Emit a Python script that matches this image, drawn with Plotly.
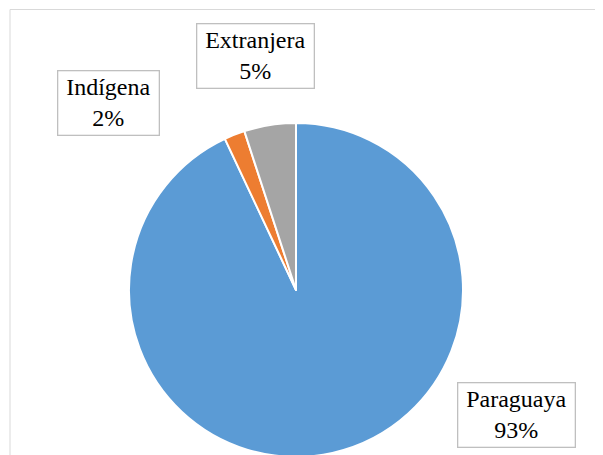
import plotly.graph_objects as go

categories = ["Paraguaya", "Indígena", "Extranjera"]
values = [93, 2, 5]
colors = ["#5B9BD5", "#ED7D31", "#A5A5A5"]
label_pos = {"Paraguaya": (516, 415), "Indígena": (109, 102.5), "Extranjera": (255, 56.5)}
label_w = {"Paraguaya": 116, "Indígena": 100, "Extranjera": 116}

OFF = 8  # page body margin
W, H = 603, 455
cx, cy, r = 296 - OFF, 290 - OFF, 167
fig = go.Figure(go.Pie(
    labels=categories, values=values, sort=False, direction="clockwise", rotation=0,
    marker=dict(colors=colors, line=dict(color="white", width=2)),
    textinfo="none", hoverinfo="label+percent", showlegend=False,
    domain=dict(x=[(cx - r) / W, (cx + r) / W], y=[(H - cy - r) / H, (H - cy + r) / H]),
))
total = sum(values)
pad = 3
for c, v in zip(categories, values):
    x, y = label_pos[c]
    fig.add_annotation(
        x=(x - OFF) / W, y=1 - (y - OFF) / H, xref="paper", yref="paper", showarrow=False,
        xanchor="center", yanchor="middle",
        text=f"{c}<br>{round(100 * v / total)}%",
        width=label_w[c] - 2 * pad, height=63 - 2 * pad,
        font=dict(family="Liberation Serif, Times New Roman, serif", size=24, color="black"),
        bgcolor="white", bordercolor="#BFBFBF", borderwidth=1.3, borderpad=pad,
    )
fig.add_shape(type="rect", xref="paper", yref="paper",
              x0=(10 - OFF) / W, x1=1.2, y0=-0.2, y1=1 - (9.5 - OFF) / H,
              line=dict(color="#D9D9D9", width=1), layer="below")
fig.update_layout(width=W, height=H, margin=dict(l=0, r=0, t=0, b=0),
                  paper_bgcolor="white", plot_bgcolor="white")
fig.write_html("out.html")
